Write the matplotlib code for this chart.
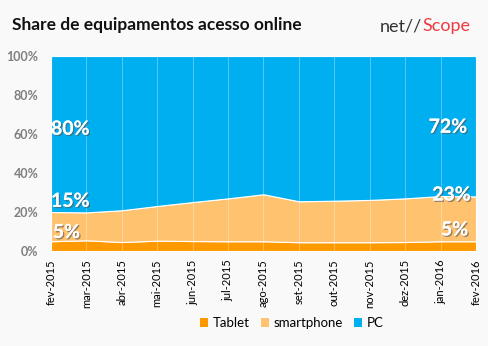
import matplotlib.pyplot as plt
import matplotlib.patheffects as pe
from matplotlib.patches import Patch

plt.rcParams['font.family'] = ['Lato', 'DejaVu Sans']

# meses (eixo x)
months = ['fev-2015', 'mar-2015', 'abr-2015', 'mai-2015', 'jun-2015', 'jul-2015',
          'ago-2015', 'set-2015', 'out-2015', 'nov-2015', 'dez-2015', 'jan-2016', 'fev-2016']

# share por equipamento (%)
tablet = [5.0, 5.5, 4.6, 5.3, 5.1, 5.0, 5.0, 4.5, 4.5, 4.5, 4.6, 5.0, 5.0]
smartphone = [15.0, 14.3, 16.3, 17.8, 20.0, 22.0, 24.1, 21.0, 21.3, 21.7, 22.4, 23.2, 23.0]
pc = [80.0, 80.2, 79.1, 76.9, 74.9, 73.0, 70.9, 74.5, 74.2, 73.8, 73.0, 71.8, 72.0]

series_names = ['Tablet', 'smartphone', 'PC']
colors = ['#FF9900', '#FFC26F', '#00AFEF']
yticks = [0, 20, 40, 60, 80, 100]

bg = '#F9F9F9'
fig = plt.figure(figsize=(4.89, 3.46), dpi=100, facecolor=bg)
ax = fig.add_axes([51 / 489, 1 - 251 / 346, 425 / 489, 195 / 346])
ax.set_facecolor(bg)

x = list(range(len(months)))
ax.stackplot(x, tablet, smartphone, pc, colors=colors,
             edgecolor='#FFFFFF', linewidth=0.8, alpha=1, zorder=1)

# linhas de grade verticais claras por cima das areas
for xi in x:
    ax.axvline(xi, color='white', alpha=0.3, lw=0.8, zorder=2)

ax.set_xlim(0, len(months) - 1)
ax.set_ylim(0, 100)
ax.set_yticks(yticks)
ax.set_yticklabels([f'{v}%' for v in yticks], color='#7F7F7F',
                   fontsize=9, fontweight='bold')
ax.set_xticks(x)
ax.set_xticklabels(months, rotation=90, fontsize=8, color='#000000')
ax.tick_params(axis='y', length=0, pad=9)
ax.tick_params(axis='x', length=0, pad=6)
for s in ax.spines.values():
    s.set_visible(False)

# rotulos de valor
fx = [pe.withSimplePatchShadow(offset=(1, -1), shadow_rgbFace='#555555', alpha=0.6), pe.Normal()]
lab = dict(color='white', fontsize=14, fontweight='bold', va='center', path_effects=fx, zorder=5)
ax.text(0.0, 62.5, f'{pc[0]:.0f}%', ha='left', **lab)
ax.text(0.0, 25.5, f'{smartphone[0]:.0f}%', ha='left', **lab)
ax.text(0.05, 9.5, f'{tablet[0]:.0f}%', ha='left', **lab)
ax.text(11.75, 63.5, f'{pc[-1]:.0f}%', ha='right', **lab)
ax.text(11.85, 28.7, f'{smartphone[-1]:.0f}%', ha='right', **lab)
ax.text(11.78, 10.8, f'{tablet[-1]:.0f}%', ha='right', **lab)

# titulo e logo
fig.text(12 / 489, 1 - 25 / 346, 'Share de equipamentos acesso online',
         fontsize=12.5, fontweight='bold', color='#111111', va='center', ha='left')
t1 = fig.text(380 / 489, 1 - 26 / 346, 'net//', fontsize=13, color='#333333',
              va='center', ha='left')
fig.canvas.draw()
bb = t1.get_window_extent()
fig.text(bb.x1 / fig.bbox.width, 1 - 26 / 346, 'Scope', fontsize=13,
         color='#EE3A43', va='center', ha='left')

handles = [Patch(facecolor=c, label=n) for c, n in zip(colors, series_names)]
fig.legend(handles=handles, loc='center', bbox_to_anchor=(292 / 489, 1 - 323 / 346),
           ncol=3, frameon=False, handlelength=0.6, handleheight=0.6,
           handletextpad=0.4, columnspacing=0.8, prop={'size': 9.5})

fig.savefig('out.png', dpi=100, facecolor=bg)
